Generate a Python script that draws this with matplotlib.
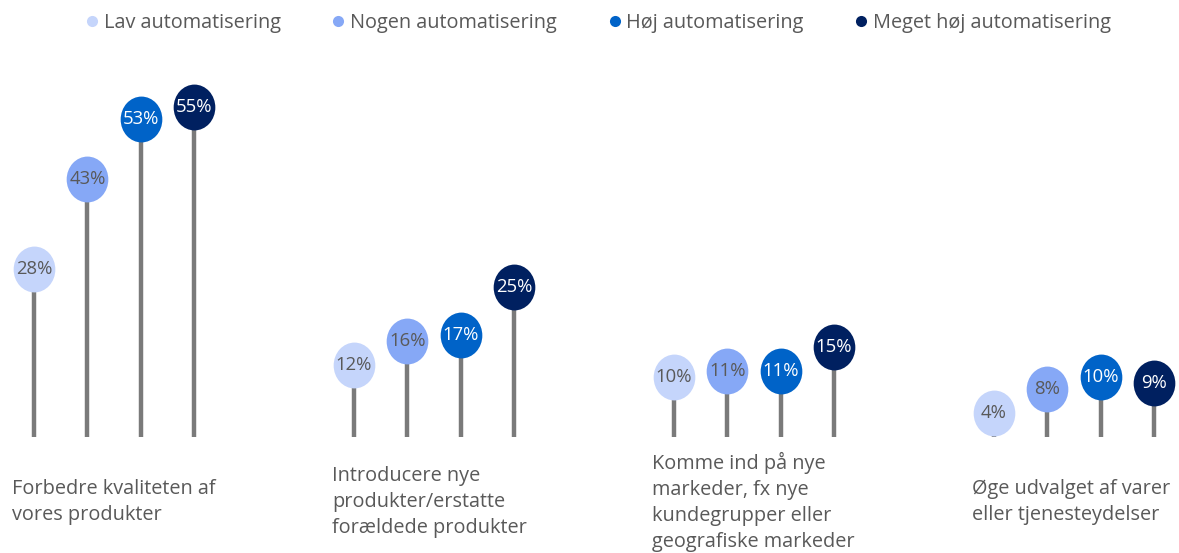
import numpy as np
import matplotlib
matplotlib.use("Agg")
import matplotlib.pyplot as plt
from matplotlib.path import Path
from matplotlib.transforms import Affine2D
from matplotlib.lines import Line2D

plt.rcParams['font.family'] = ['Open Sans', 'DejaVu Sans']

# data
categories = [
    "Forbedre kvaliteten af\nvores produkter",
    "Introducere nye\nprodukter/erstatte\nforældede produkter",
    "Komme ind på nye\nmarkeder, fx nye\nkundegrupper eller\ngeografiske markeder",
    "Øge udvalget af varer\neller tjenesteydelser",
]
series_names = ["Lav automatisering", "Nogen automatisering",
                "Høj automatisering", "Meget høj automatisering"]
lav = [28, 12, 10, 4]
nogen = [43, 16, 11, 8]
hoj = [53, 17, 11, 10]
meget_hoj = [55, 25, 15, 9]
series_values = [lav, nogen, hoj, meget_hoj]

colors = ["#C5D5FB", "#86A8F6", "#0063C8", "#002060"]
label_colors = ["#595959", "#595959", "white", "white"]
stem_color = "#7A7A7A"
text_gray = "#595959"

fig = plt.figure(figsize=(11.79, 5.53), dpi=100)
ax = fig.add_axes([0, 0, 1, 1])
ax.set_xlim(-0.6375, 21.47)
ax.set_ylim(-19.33, 72.83)
ax.axis('off')

# slightly tall ellipse marker
ellipse = Path.unit_circle().transformed(Affine2D().scale(1.0, 1.1))

group_gap = 6
for s, (name, vals) in enumerate(zip(series_names, series_values)):
    xs = np.arange(len(vals)) * group_gap + s
    ax.vlines(xs, 0, vals, color=stem_color, linewidth=3.2, zorder=1)
    ax.plot(xs, vals, linestyle='none', marker=ellipse, markersize=33,
            markerfacecolor=colors[s], markeredgewidth=0, zorder=2)
    for x, v in zip(xs, vals):
        ax.text(x, v, f"{v}%", ha='center', va='center', fontsize=13.3,
                color=label_colors[s], zorder=3)

for g, cat in enumerate(categories):
    ax.text(g * group_gap - 0.41, -10.8, cat, ha='left', va='center',
            fontsize=14.3, color=text_gray, linespacing=1.4)

handles = [Line2D([], [], linestyle='none', marker='o', markersize=8,
                  markerfacecolor=c, markeredgewidth=0) for c in colors]
fig.legend(handles, series_names, loc='upper center', ncol=4,
           bbox_to_anchor=(0.506, 1.008), frameon=False, fontsize=14.3,
           labelcolor=text_gray, handletextpad=0.1, columnspacing=2.4,
           handlelength=1.0)

fig.savefig("out.png", dpi=100)
